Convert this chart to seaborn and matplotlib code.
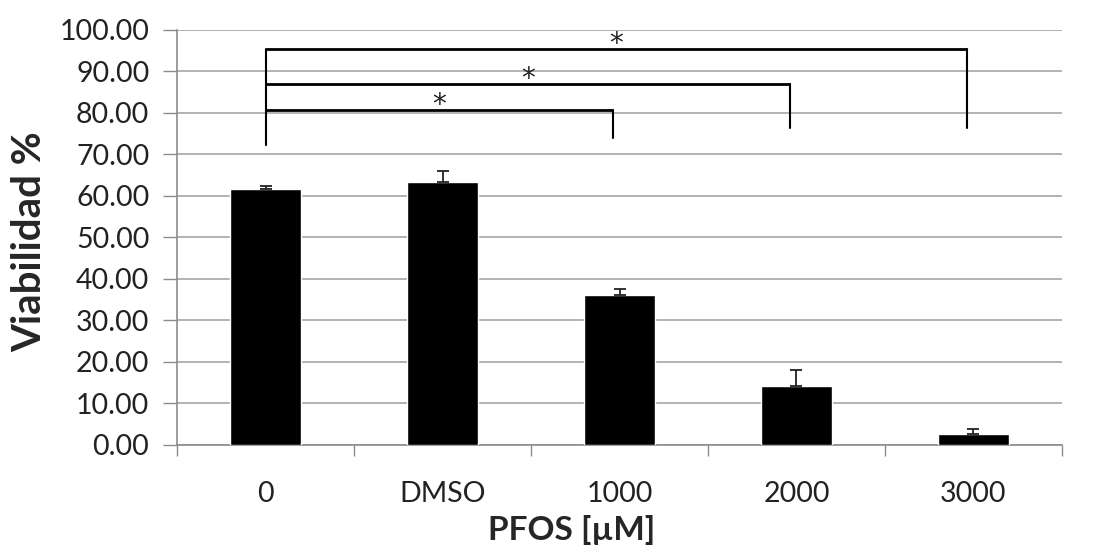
import matplotlib
matplotlib.use("Agg")
import matplotlib.pyplot as plt
import seaborn as sns
import pandas as pd
import numpy as np

# data
categories = ["0", "DMSO", "1000", "2000", "3000"]
viability = [61.6, 63.3, 36.2, 14.2, 2.7]
error_up = [0.9, 2.7, 1.4, 3.9, 1.1]

# significance brackets: from "0" to target group
bracket_targets = [2, 3, 4]
bracket_heights = [80.7, 87.1, 95.5]
bracket_drops = [73.9, 76.5, 76.5]
bracket_base = 72.2
bracket_labels = ["*", "*", "*"]

y_ticks = np.arange(0, 101, 10)

sns.set_theme(style="white")
plt.rcParams['font.family'] = ['Lato', 'DejaVu Sans']

df = pd.DataFrame({"grupo": categories, "viabilidad": viability})

fig = plt.figure(figsize=(10.99, 5.51), dpi=100)
ax = fig.add_axes([0.1611, 0.1924, 0.8052, 0.7532])

sns.barplot(data=df, x="grupo", y="viabilidad", color="black", width=0.4,
            errorbar=None, saturation=1, ax=ax, zorder=3)
x = np.arange(len(categories))
ax.errorbar(x, viability, yerr=[np.zeros(len(x)), error_up], fmt="none",
            ecolor="#222222", elinewidth=1.3, capsize=4, capthick=1.3, zorder=4)

# brackets
for tgt, h, drop, lab in zip(bracket_targets, bracket_heights, bracket_drops, bracket_labels):
    x_end = tgt - 0.035
    ax.plot([0, x_end], [h, h], color="black", lw=2, solid_capstyle="butt", zorder=5)
    ax.plot([x_end, x_end], [drop, h], color="black", lw=1.5, zorder=5)
    ax.text((0 + x_end) / 2, h + 1.2, lab, ha="center", va="center",
            fontsize=20, family="DejaVu Sans", color="#222222", zorder=6)
ax.plot([0, 0], [bracket_base, max(bracket_heights)], color="black", lw=1.5, zorder=5)

ax.set_xlim(-0.5, len(categories) - 0.5)
ax.set_ylim(0, 100)
ax.set_yticks(y_ticks)
ax.set_yticklabels([f"{v:.2f}" for v in y_ticks])
ax.yaxis.grid(True, color="#a6a6a6", lw=1.2, zorder=0)
ax.set_axisbelow(True)

# x ticks at category boundaries, labels centred under bars
ax.set_xticks(np.arange(-0.5, len(categories), 1.0))
ax.set_xticklabels([""] * (len(categories) + 1))
ax.set_xticks(x, minor=True)
ax.set_xticklabels(categories, minor=True)
ax.tick_params(axis="x", which="major", length=8, width=1, color="#8c8c8c", direction="out", bottom=True)
ax.tick_params(axis="x", which="minor", length=0, labelsize=20.5, pad=26, labelcolor="#222222")
ax.tick_params(axis="y", length=10, width=1, color="#8c8c8c", direction="out", left=True,
               labelsize=20.5, pad=10, labelcolor="#222222")

for s in ["top", "right"]:
    ax.spines[s].set_visible(False)
ax.spines["left"].set_color("#8c8c8c")
ax.spines["bottom"].set_color("#8c8c8c")
ax.spines["left"].set_linewidth(1.2)
ax.spines["bottom"].set_linewidth(1.2)

ax.set_xlabel("PFOS [µM]", fontsize=24, fontweight="bold", va="center")
ax.set_ylabel("Viabilidad %", fontsize=29, fontweight="bold", va="center")
ax.xaxis.set_label_coords(0.446, -0.205)
ax.yaxis.set_label_coords(-0.166, 0.49)

fig.savefig("out.png", dpi=100)
